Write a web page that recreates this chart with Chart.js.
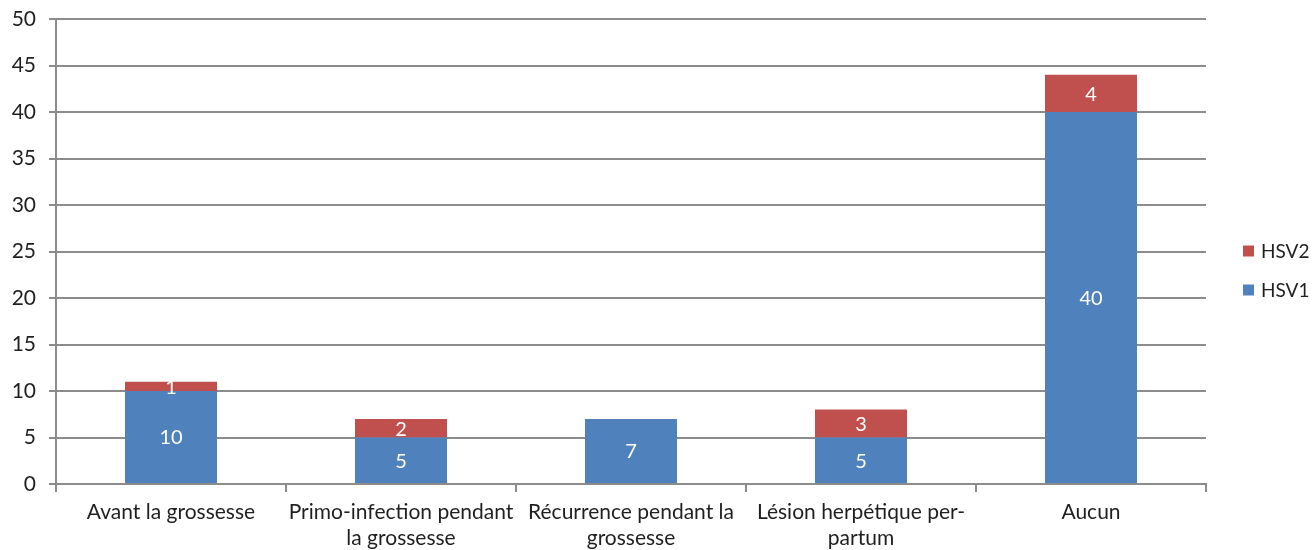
<!DOCTYPE html>
<html>
<head>
<meta charset="utf-8">
<script src="https://cdn.jsdelivr.net/npm/chart.js@4/dist/chart.umd.min.js"></script>
<style>
  html, body { margin: 0; padding: 0; background: #fff; }
  #wrap { width: 1312px; height: 550px; }
</style>
</head>
<body>
<div id="wrap"><canvas id="myChart"></canvas></div>
<script>
// categories (multi-line labels, as wrapped in the original)
const categories = [
    ["Avant la grossesse"],
    ["Primo-infection pendant", "la grossesse"],
    ["Récurrence pendant la", "grossesse"],
    ["Lésion herpétique per-", "partum"],
    ["Aucun"]
];

// series values
const hsv1 = [10, 5, 7, 5, 40];
const hsv2 = [1, 2, 0, 3, 4];

// y axis
const yMin = 0;
const yMax = 50;
const yStep = 5;

const FONT = "Lato, 'Open Sans', sans-serif";
const TEXT = "#1f1f1f";
const GRID = "#8c8c8c";

// white value labels in the middle of each bar segment
const valueLabels = {
    id: "valueLabels",
    afterDatasetsDraw(chart) {
        const ctx = chart.ctx;
        ctx.save();
        ctx.fillStyle = "#fff";
        ctx.font = "20px " + FONT;
        ctx.textAlign = "center";
        ctx.textBaseline = "middle";
        chart.data.datasets.forEach((ds, i) => {
            chart.getDatasetMeta(i).data.forEach((bar, j) => {
                const v = ds.data[j];
                if (!v) return;
                ctx.fillText(String(v), bar.x, (bar.y + bar.base) / 2 + 1);
            });
        });
        ctx.restore();
    }
};

// legend on the right, HSV2 above HSV1 (like the original)
const sideLegend = {
    id: "sideLegend",
    afterDraw(chart) {
        const ctx = chart.ctx;
        const area = chart.chartArea;
        const x = area.right + 37;
        let y = area.top + (area.bottom - area.top) / 2 + 38;
        ctx.save();
        ctx.font = "19px " + FONT;
        ctx.textBaseline = "middle";
        ctx.textAlign = "left";
        chart.data.datasets.forEach(ds => {
            ctx.fillStyle = ds.backgroundColor;
            ctx.fillRect(x, y - 5, 11, 11);
            ctx.fillStyle = TEXT;
            ctx.fillText(ds.label, x + 18, y + 1);
            y -= 39;
        });
        ctx.restore();
    }
};

const ctx = document.getElementById("myChart").getContext("2d");
new Chart(ctx, {
    type: "bar",
    data: {
        labels: categories,
        datasets: [
            { label: "HSV1", data: hsv1, backgroundColor: "#4F81BD" },
            { label: "HSV2", data: hsv2, backgroundColor: "#C0504D" }
        ]
    },
    options: {
        responsive: true,
        maintainAspectRatio: false,
        animation: false,
        datasets: {
            bar: { categoryPercentage: 1, barPercentage: 0.4 }
        },
        layout: { padding: { top: 19, left: 0, right: 106, bottom: 0 } },
        scales: {
            x: {
                stacked: true,
                afterFit: scale => { scale.height = 66; },
                grid: {
                    offset: true,
                    drawOnChartArea: false,
                    color: GRID,
                    lineWidth: 2,
                    tickLength: 8
                },
                border: { color: GRID, width: 2 },
                ticks: {
                    color: TEXT,
                    font: { family: FONT, size: 21 },
                    maxRotation: 0,
                    autoSkip: false,
                    padding: 8
                }
            },
            y: {
                stacked: true,
                min: yMin,
                max: yMax,
                afterFit: scale => {
                    scale.width = 56;
                    scale.paddingTop = 0;
                    scale.paddingBottom = 0;
                },
                grid: {
                    color: GRID,
                    lineWidth: 2,
                    tickLength: 7
                },
                border: { color: GRID, width: 2 },
                ticks: {
                    stepSize: yStep,
                    color: TEXT,
                    font: { family: FONT, size: 21 },
                    padding: 13
                }
            }
        },
        plugins: {
            legend: { display: false },
            tooltip: { enabled: false }
        }
    },
    plugins: [valueLabels, sideLegend]
});
</script>
</body>
</html>
